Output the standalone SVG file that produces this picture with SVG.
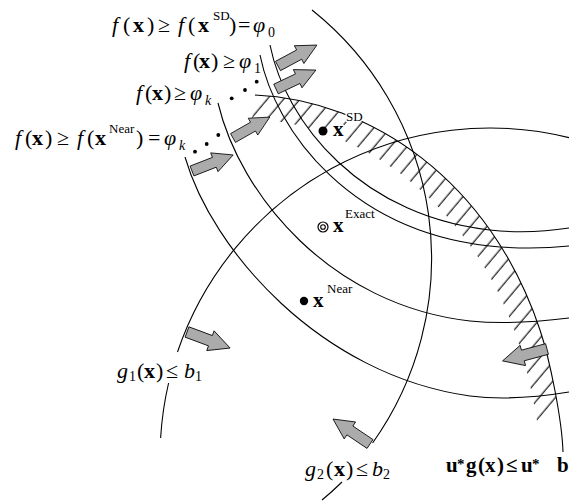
<svg xmlns="http://www.w3.org/2000/svg" width="569" height="501" viewBox="0 0 569 501">
<defs>
<style>
.ln{fill:none;stroke:#000;stroke-width:1.1}
.t{font-family:'Liberation Serif','Times New Roman',serif;font-size:22px;fill:#000}
.m{font-size:21px}
.i{font-style:italic}
.b{font-weight:bold}
.sp{font-size:13px}
.sb{font-size:14px}
.st{font-size:15px}
.halo{stroke:#fff;stroke-width:3;paint-order:stroke;stroke-linejoin:round}
</style>
<polygon id="ar" points="0,-5.5 25,-5.5 25,-10.5 46,0 25,10.5 25,5.5 0,5.5" fill="#ababab" stroke="#000" stroke-width="0.8" stroke-linejoin="miter"/>
<pattern id="hp" patternUnits="userSpaceOnUse" width="12.5" height="12.5" patternTransform="rotate(40)">
<line x1="6" y1="-1" x2="6" y2="13.5" stroke="#000" stroke-width="1.1"/>
</pattern>
</defs>
<rect width="569" height="501" fill="#fff"/>

<g id="hatching">
<path d="M255,95 C370,100 490,180 540,330 C546.5,349.5 553.8,381.7 558.5,409.9 L539,433 C534,400 527,368 517,338 C472,205 363,124 252,119 Z" fill="url(#hp)" stroke="none"/>
</g>

<g id="connectors">
<path id="g1-arc" class="ln" d="M160.6,438 A330,330 0 0 1 168.6,383 M177.5,352 A330,330 0 0 1 569,137.6"/>
<path id="g2-arc" class="ln" d="M312,10 A318,318 0 0 1 372.6,443 M342,482 A318,318 0 0 1 322,500"/>
<path id="ug-arc" class="ln" d="M255,95 C370,100 490,180 540,330 C550,360 562,420 563,452"/>
<path id="f0" class="ln" d="M270,45 C285,120 360,220 500,231 C530,233 550,231 569,228"/>
<path id="f1" class="ln" d="M260,55 C275,130 350,235 500,247 C530,249 550,248 569,246"/>
<path id="fk" class="ln" d="M218,103 C240,195 330,305 470,321 C510,325 545,321 569,318"/>
<path id="fnear" class="ln" d="M185,157 C212,250 320,375 470,396 C510,401 545,396 569,392"/>
</g>

<g id="arrows">
<use href="#ar" transform="translate(278,66) rotate(-28.3) scale(0.96)"/>
<use href="#ar" transform="translate(276,89) rotate(-25.4) scale(0.96)"/>
<use href="#ar" transform="translate(233,138) rotate(-29.6) scale(0.92)"/>
<use href="#ar" transform="translate(192,171) rotate(-21.3) scale(0.96)"/>
<use href="#ar" transform="translate(187,332) rotate(20.4)"/>
<use href="#ar" transform="translate(370,444) rotate(-146) scale(0.97)"/>
<use href="#ar" transform="translate(547,349) rotate(165)"/>
</g>

<g id="dots">
<circle cx="231.7" cy="98.3" r="1.9"/>
<circle cx="245" cy="90" r="1.9"/>
<circle cx="256.7" cy="81.7" r="1.9"/>
<circle cx="195" cy="151.7" r="1.9"/>
<circle cx="206.7" cy="144" r="1.9"/>
<circle cx="218.3" cy="135" r="1.9"/>
</g>

<g id="x-sd">
<circle cx="323" cy="131" r="4.5"/>
<text class="t m b halo" x="333" y="136">x</text>
<text class="t sp halo" x="346" y="121">SD</text>
</g>
<g id="x-exact">
<circle cx="323" cy="227" r="5" fill="#fff" stroke="#000" stroke-width="1.2"/>
<circle cx="323" cy="227" r="2.3" fill="#fff" stroke="#000" stroke-width="1.1"/>
<text class="t m b" x="333" y="232">x</text>
<text class="t sp" x="345" y="218">Exact</text>
</g>
<g id="x-near">
<circle cx="304" cy="301" r="4.2"/>
<text class="t m b" x="313" y="307">x</text>
<text class="t sp" x="327" y="293">Near</text>
</g>

<g id="label-f0">
<text class="t" y="32"><tspan class="i" x="112">f</tspan><tspan x="123">(</tspan><tspan class="b" x="133">x</tspan><tspan x="147">)</tspan><tspan x="158">≥</tspan><tspan class="i" x="178">f</tspan><tspan x="188">(</tspan><tspan class="b" x="198">x</tspan><tspan class="sp" x="213" y="20">SD</tspan><tspan x="229" y="32">)</tspan><tspan x="238">=</tspan><tspan class="i" x="253">φ</tspan><tspan class="sb" x="268" y="37">0</tspan></text>
</g>
<g id="label-f1">
<text class="t" y="68"><tspan class="i" x="184">f</tspan><tspan x="193">(</tspan><tspan class="b" x="199">x</tspan><tspan x="211">)</tspan><tspan x="223">≥</tspan><tspan class="i" x="239">φ</tspan><tspan class="sb" x="254" y="73">1</tspan></text>
</g>
<g id="label-fk">
<text class="t" y="100"><tspan class="i" x="136">f</tspan><tspan x="145">(</tspan><tspan class="b" x="152">x</tspan><tspan x="164">)</tspan><tspan x="174">≥</tspan><tspan class="i" x="190">φ</tspan><tspan class="sb i" x="205" y="105">k</tspan></text>
</g>
<g id="label-fnear">
<text class="t" y="145"><tspan class="i" x="15">f</tspan><tspan x="25">(</tspan><tspan class="b" x="32">x</tspan><tspan x="45">)</tspan><tspan x="57">≥</tspan><tspan class="i" x="77">f</tspan><tspan x="87">(</tspan><tspan class="b" x="95">x</tspan><tspan class="sp" x="109" y="133">Near</tspan><tspan x="136" y="145">)</tspan><tspan x="148">=</tspan><tspan class="i" x="164">φ</tspan><tspan class="sb i" x="179" y="150">k</tspan></text>
</g>
<g id="label-g1">
<text class="t" y="378"><tspan class="i" x="117">g</tspan><tspan class="sb" x="129" y="381">1</tspan><tspan x="137" y="378">(</tspan><tspan class="b" x="144">x</tspan><tspan x="156">)</tspan><tspan x="166">≤</tspan><tspan class="i" x="184">b</tspan><tspan class="sb" x="195" y="381">1</tspan></text>
</g>
<g id="label-g2">
<text class="t" y="476"><tspan class="i" x="305">g</tspan><tspan class="sb" x="317" y="479">2</tspan><tspan x="326" y="476">(</tspan><tspan class="b" x="334">x</tspan><tspan x="346">)</tspan><tspan x="356">≤</tspan><tspan class="i" x="372">b</tspan><tspan class="sb" x="383" y="479">2</tspan></text>
</g>
<g id="label-ug">
<text class="t m b" y="472"><tspan x="446">u</tspan><tspan class="st" x="457" y="469">*</tspan><tspan x="466" y="472">g</tspan><tspan x="478">(</tspan><tspan x="485">x</tspan><tspan x="497">)</tspan><tspan x="506">≤</tspan><tspan x="521">u</tspan><tspan class="st" x="532" y="469">*</tspan><tspan x="557" y="472">b</tspan></text>
</g>
</svg>
